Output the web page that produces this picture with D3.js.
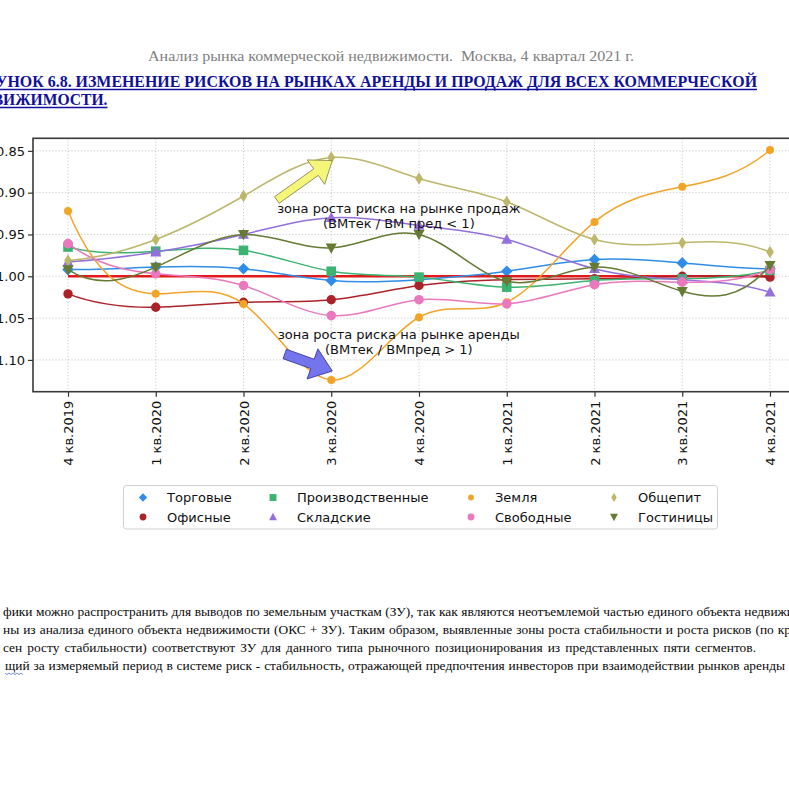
<!DOCTYPE html>
<html><head><meta charset="utf-8">
<script src="https://cdn.jsdelivr.net/npm/d3@7"></script>
<style>body{margin:0;background:#fff}svg{display:block}</style>
</head><body>
<script>
// ---------- data ----------
const categories = ["4 кв.2019","1 кв.2020","2 кв.2020","3 кв.2020","4 кв.2020","1 кв.2021","2 кв.2021","3 кв.2021","4 кв.2021"];
const seriesNames = ["Торговые","Офисные","Производственные","Складские","Земля","Свободные","Общепит","Гостиницы"];
const torgovye   = [0.992, 0.989, 0.991, 1.005, 1.004, 0.994, 0.980, 0.984, 0.991];
const ofisnye    = [1.021, 1.037, 1.031, 1.028, 1.011, 1.004, 1.003, 1.000, 1.001];
const proizv     = [0.965, 0.970, 0.969, 0.994, 1.001, 1.013, 1.005, 1.003, 0.993];
const skladskie  = [0.983, 0.971, 0.950, 0.930, 0.939, 0.956, 0.991, 1.004, 1.019];
const zemlya     = [0.922, 1.021, 1.033, 1.124, 1.049, 1.031, 0.935, 0.893, 0.849];
const svobodnye  = [0.961, 0.997, 1.011, 1.047, 1.028, 1.033, 1.010, 1.007, 0.992];
const obshchepit = [0.981, 0.956, 0.904, 0.858, 0.883, 0.911, 0.956, 0.960, 0.971];
const gostinitsy = [0.992, 0.989, 0.950, 0.966, 0.950, 1.006, 0.989, 1.018, 0.987];
const refValue = 1.0;
const yTicks = [0.85, 0.90, 0.95, 1.00, 1.05, 1.10];
const yDomain = [0.835, 1.138];

const headerText = "Анализ рынка коммерческой недвижимости.  Москва, 4 квартал 2021 г.";
const titleLine1 = "РИСУНОК 6.8. ИЗМЕНЕНИЕ РИСКОВ НА РЫНКАХ АРЕНДЫ И ПРОДАЖ ДЛЯ ВСЕХ КОММЕРЧЕСКОЙ";
const titleLine2 = "НЕДВИЖИМОСТИ.";
const paragraph = [
  "фики можно распространить для выводов по земельным участкам (ЗУ), так как являются неотъемлемой частью единого объекта недвижи",
  "ны из анализа единого объекта недвижимости (ОКС + ЗУ). Таким образом, выявленные зоны роста стабильности и роста рисков (по кр",
  "сен росту стабильности) соответствуют ЗУ для данного типа рыночного позиционирования из представленных пяти сегментов.",
  "щий за измеряемый период в системе риск - стабильность, отражающей предпочтения инвесторов при взаимодействии рынков аренды и"
];
const annotSales = ["зона роста риска на рынке продаж", "(ВМтек / ВМ пред < 1)"];
const annotRent  = ["зона роста риска на рынке аренды", "(ВМтек / ВМпред > 1)"];

// ---------- styles ----------
const series = [
  {name: seriesNames[0], values: torgovye,   color: "#2f8de8", marker: "D", size: 5.8},
  {name: seriesNames[1], values: ofisnye,    color: "#ac2229", marker: "o", size: 4.7},
  {name: seriesNames[2], values: proizv,     color: "#3cb371", marker: "s", size: 4.8},
  {name: seriesNames[3], values: skladskie,  color: "#9370db", marker: "^", size: 5.8},
  {name: seriesNames[4], values: zemlya,     color: "#f2a427", marker: "o", size: 4.0},
  {name: seriesNames[5], values: svobodnye,  color: "#ea78bd", marker: "o", size: 4.8},
  {name: seriesNames[6], values: obshchepit, color: "#bdb76b", marker: "d", size: 6.2},
  {name: seriesNames[7], values: gostinitsy, color: "#657a32", marker: "v", size: 5.8}
];

// not-a-knot cubic spline curve for d3.line (same smoothing as a k=3 interpolating spline)
function curveNotAKnot(context) {
  let pts;
  return {
    areaStart() {}, areaEnd() {},
    lineStart() { pts = []; },
    point(px, py) { pts.push([+px, +py]); },
    lineEnd() {
      const n = pts.length;
      if (n === 0) return;
      context.moveTo(pts[0][0], pts[0][1]);
      if (n < 4) { for (let i = 1; i < n; i++) context.lineTo(pts[i][0], pts[i][1]); return; }
      const X = pts.map(p => p[0]), Y = pts.map(p => p[1]);
      const h = []; for (let i = 0; i < n - 1; i++) h.push(X[i+1] - X[i]);
      // build system for second derivatives M
      const A = Array.from({length: n}, () => new Array(n).fill(0)), b = new Array(n).fill(0);
      A[0][0] = h[1]; A[0][1] = -(h[0] + h[1]); A[0][2] = h[0];
      A[n-1][n-3] = h[n-2]; A[n-1][n-2] = -(h[n-3] + h[n-2]); A[n-1][n-1] = h[n-3];
      for (let i = 1; i < n - 1; i++) {
        A[i][i-1] = h[i-1]; A[i][i] = 2 * (h[i-1] + h[i]); A[i][i+1] = h[i];
        b[i] = 6 * ((Y[i+1] - Y[i]) / h[i] - (Y[i] - Y[i-1]) / h[i-1]);
      }
      // gaussian elimination with partial pivoting
      for (let c = 0; c < n; c++) {
        let piv = c; for (let r = c + 1; r < n; r++) if (Math.abs(A[r][c]) > Math.abs(A[piv][c])) piv = r;
        [A[c], A[piv]] = [A[piv], A[c]]; [b[c], b[piv]] = [b[piv], b[c]];
        for (let r = c + 1; r < n; r++) {
          const f = A[r][c] / A[c][c]; if (!f) continue;
          for (let k = c; k < n; k++) A[r][k] -= f * A[c][k]; b[r] -= f * b[c];
        }
      }
      const M = new Array(n).fill(0);
      for (let r = n - 1; r >= 0; r--) { let sum = b[r]; for (let k = r + 1; k < n; k++) sum -= A[r][k] * M[k]; M[r] = sum / A[r][r]; }
      for (let i = 0; i < n - 1; i++) {
        const hi = h[i];
        const d0 = (Y[i+1] - Y[i]) / hi - hi * (2 * M[i] + M[i+1]) / 6;
        const d1 = (Y[i+1] - Y[i]) / hi + hi * (M[i] + 2 * M[i+1]) / 6;
        context.bezierCurveTo(X[i] + hi/3, Y[i] + d0*hi/3, X[i+1] - hi/3, Y[i+1] - d1*hi/3, X[i+1], Y[i+1]);
      }
    }
  };
}

const W = 789, H = 790;
const svg = d3.select("body").append("svg").attr("width", W).attr("height", H);
svg.append("rect").attr("width", W).attr("height", H).attr("fill", "#fff");

const plot = {left: 33, right: 805, top: 138.3, bottom: 391.7};
const x = d3.scalePoint().domain(categories).range([68, 770]);
const xi = d3.scaleLinear().domain([0, categories.length - 1]).range([68, 770]);
const y = d3.scaleLinear().domain(yDomain).range([plot.top, plot.bottom]);

function markerPath(type, r) {
  const p = d3.path();
  if (type === "o") { p.arc(0, 0, r, 0, 2 * Math.PI); }
  else if (type === "D") { p.moveTo(0,-r); p.lineTo(r,0); p.lineTo(0,r); p.lineTo(-r,0); p.closePath(); }
  else if (type === "d") { const w = r*0.62; p.moveTo(0,-r); p.lineTo(w,0); p.lineTo(0,r); p.lineTo(-w,0); p.closePath(); }
  else if (type === "s") { p.rect(-r, -r, 2*r, 2*r); }
  else if (type === "^") { p.moveTo(0,-r); p.lineTo(r*0.95, r*0.75); p.lineTo(-r*0.95, r*0.75); p.closePath(); }
  else if (type === "v") { p.moveTo(0,r); p.lineTo(r*0.95, -r*0.75); p.lineTo(-r*0.95, -r*0.75); p.closePath(); }
  return p.toString();
}

// ---------- header & title ----------
svg.append("text").attr("x", 148).attr("y", 61)
  .attr("font-family", "Liberation Serif, Times New Roman, serif").attr("font-size", 15)
  .attr("fill", "#808080").attr("textLength", 486).attr("lengthAdjust", "spacingAndGlyphs")
  .style("white-space", "pre").text(headerText);

const tFont = "Liberation Serif, Times New Roman, serif";
const navy = "#10109a";
const t1 = svg.append("text").attr("font-family", tFont).attr("font-weight", "bold").attr("font-size", 16.5)
  .attr("fill", navy).text(titleLine1);
const natW1 = t1.node().getComputedTextLength();
const pre = svg.append("text").attr("font-family", tFont).attr("font-weight", "bold").attr("font-size", 16.5).text("РИС");
const preW = pre.node().getComputedTextLength(); pre.remove();
const s = 761 / (natW1 - preW);
const startX = 757 - natW1 * s;
t1.attr("x", startX).attr("y", 87).attr("textLength", natW1 * s).attr("lengthAdjust", "spacingAndGlyphs");
const t2 = svg.append("text").attr("font-family", tFont).attr("font-weight", "bold").attr("font-size", 16.5)
  .attr("fill", navy).text(titleLine2);
const natW2 = t2.node().getComputedTextLength();
const l2Start = startX - 3, l2Len = natW2 * s * 0.98;
t2.attr("x", l2Start).attr("y", 105).attr("textLength", l2Len).attr("lengthAdjust", "spacingAndGlyphs");
svg.append("line").attr("x1", 0).attr("x2", 757).attr("y1", 89.5).attr("y2", 89.5).attr("stroke", navy).attr("stroke-width", 1.4);
svg.append("line").attr("x1", 0).attr("x2", l2Start + l2Len).attr("y1", 107.5).attr("y2", 107.5).attr("stroke", navy).attr("stroke-width", 1.4);

// ---------- grid ----------
const g = svg.append("g");
g.selectAll(".gx").data(categories).join("line")
  .attr("x1", d => x(d)).attr("x2", d => x(d)).attr("y1", plot.top).attr("y2", plot.bottom)
  .attr("stroke", "#c4c4c4").attr("stroke-width", 0.9).attr("stroke-dasharray", "1.2,2");
g.selectAll(".gy").data(yTicks).join("line")
  .attr("x1", plot.left).attr("x2", plot.right).attr("y1", d => y(d)).attr("y2", d => y(d))
  .attr("stroke", "#c4c4c4").attr("stroke-width", 0.9).attr("stroke-dasharray", "1.2,2");

// ---------- reference line ----------
g.append("line").attr("x1", x(categories[0])).attr("x2", x(categories[categories.length-1]))
  .attr("y1", y(refValue)).attr("y2", y(refValue)).attr("stroke", "#e31a1c").attr("stroke-width", 2.4);

// ---------- series ----------
const line = d3.line().x((d, i) => x(categories[i])).y(d => y(d)).curve(curveNotAKnot);
series.forEach(sr => {
  g.append("path").attr("d", line(sr.values)).attr("fill", "none")
    .attr("stroke", sr.color).attr("stroke-width", 1.5);
  g.selectAll(null).data(sr.values).join("path")
    .attr("d", markerPath(sr.marker, sr.size))
    .attr("transform", (d, i) => `translate(${x(categories[i])},${y(d)})`)
    .attr("fill", sr.color);
});

// ---------- annotations ----------
function arrow(x0, y0, x1, y1, shaft, headW, headL) {
  const dx = x1 - x0, dy = y1 - y0, L = Math.hypot(dx, dy);
  const ux = dx / L, uy = dy / L, nx = -uy, ny = ux;
  const bx = x1 - ux * headL, by = y1 - uy * headL;
  const pts = [
    [x0 + nx*shaft/2, y0 + ny*shaft/2], [bx + nx*shaft/2, by + ny*shaft/2],
    [bx + nx*headW/2, by + ny*headW/2], [x1, y1],
    [bx - nx*headW/2, by - ny*headW/2], [bx - nx*shaft/2, by - ny*shaft/2],
    [x0 - nx*shaft/2, y0 - ny*shaft/2]
  ];
  return "M" + pts.map(p => p.join(",")).join("L") + "Z";
}
const peakX = x(categories[3]), peakY = y(obshchepit[3]);
svg.append("path").attr("d", arrow(xi(2.38), y(0.9088), peakX + 1, peakY + 3, 8, 30, 20))
  .attr("fill", "#f5f57a").attr("stroke", "#8a8a50").attr("stroke-width", 0.9);
const lowX = x(categories[3]), lowY = y(zemlya[3]);
svg.append("path").attr("d", arrow(xi(2.47), y(1.0929), lowX + 1, lowY - 9, 10, 32, 21))
  .attr("fill", "#7474ec").attr("stroke", "#3a3aa0").attr("stroke-width", 0.9);

function annot(lines, cx, v) {
  const t = svg.append("text").attr("font-family", "DejaVu Sans, sans-serif").attr("font-size", 13)
    .attr("fill", "#111").attr("text-anchor", "middle");
  lines.forEach((l, i) => t.append("tspan").attr("x", cx).attr("y", y(v) + 4.5 + i * 14.5).text(l));
}
annot(annotSales, xi(3.77), 0.9195);
annot(annotRent, xi(3.77), 1.0702);

// ---------- frame & axes ----------
svg.append("rect").attr("x", plot.left).attr("y", plot.top).attr("width", plot.right - plot.left)
  .attr("height", plot.bottom - plot.top).attr("fill", "none").attr("stroke", "#3a3a3a").attr("stroke-width", 1.6);
const yAxis = svg.append("g").attr("transform", `translate(${plot.left},0)`)
  .call(d3.axisLeft(y).tickValues(yTicks).tickFormat(d3.format(".2f")).tickSize(5).tickPadding(3));
yAxis.select(".domain").remove();
yAxis.selectAll("text").attr("font-family", "DejaVu Sans, sans-serif").attr("font-size", 13).attr("fill", "#111");
yAxis.selectAll("line").attr("stroke", "#333").attr("stroke-width", 1.2);

const xAxis = svg.append("g").attr("transform", `translate(0,${plot.bottom})`)
  .call(d3.axisBottom(x).tickSize(5).tickPadding(4));
xAxis.select(".domain").remove();
xAxis.selectAll("line").attr("stroke", "#333").attr("stroke-width", 1.2);
xAxis.selectAll("text").attr("font-family", "DejaVu Sans, sans-serif").attr("font-size", 13).attr("fill", "#111")
  .attr("transform", "rotate(-90)").attr("text-anchor", "end").attr("x", -9).attr("y", 0).attr("dy", "0.35em");

// ---------- legend ----------
const lg = svg.append("g");
lg.append("rect").attr("x", 123.5).attr("y", 485.5).attr("width", 594).attr("height", 43.5).attr("rx", 3)
  .attr("fill", "#fff").attr("stroke", "#d0d0d0").attr("stroke-width", 1);
const colMarkerX = [143, 273, 471, 614];
const colTextX = [167, 297, 495, 638];
const rowY = [497.5, 517];
series.forEach((sr, i) => {
  const col = Math.floor(i / 2), row = i % 2;
  lg.append("path").attr("d", markerPath(sr.marker, sr.size * 0.72))
    .attr("transform", `translate(${colMarkerX[col]},${rowY[row]})`).attr("fill", sr.color);
  lg.append("text").attr("x", colTextX[col]).attr("y", rowY[row] + 4.5)
    .attr("font-family", "DejaVu Sans, sans-serif").attr("font-size", 13).attr("fill", "#111").text(sr.name);
});

// ---------- paragraph (justified word by word) ----------
const paraStart = [3, 3, 3, 5];
const paraEnd = [794, 791, 756, 796];
const paraY = [616, 634, 652, 670];
const pFont = "Liberation Serif, Times New Roman, serif", pSize = 13.4;
paragraph.forEach((txt, i) => {
  const words = txt.split(" ");
  const widths = words.map(w => {
    const tmp = svg.append("text").attr("font-family", pFont).attr("font-size", pSize).text(w);
    const ww = tmp.node().getComputedTextLength(); tmp.remove(); return ww;
  });
  const gap = (paraEnd[i] - paraStart[i] - d3.sum(widths)) / (words.length - 1);
  const t = svg.append("text").attr("y", paraY[i]).attr("font-family", pFont).attr("font-size", pSize).attr("fill", "#0a0a0a");
  let cx = paraStart[i];
  words.forEach((w, k) => {
    t.append("tspan").attr("x", cx).text(w);
    cx += widths[k] + gap;
  });
});
// spell-check squiggle under first word of last line
const sq = d3.path();
sq.moveTo(5, 673);
for (let k = 0; k < 9; k++) sq.lineTo(7 + k * 2, 673 + (k % 2 ? 0 : 1.6));
svg.append("path").attr("d", sq.toString()).attr("fill", "none").attr("stroke", "#4a6fd0").attr("stroke-width", 0.8);
</script>
</body></html>
